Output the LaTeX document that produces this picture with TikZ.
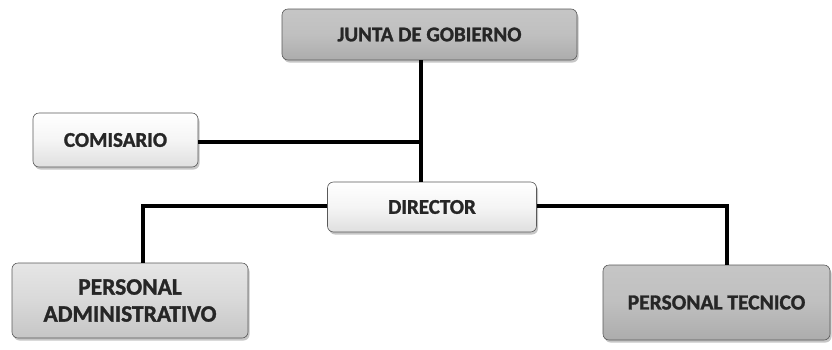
\documentclass[tikz,border=0pt]{standalone}
\usepackage{fontspec}
\setmainfont{Carlito}[BoldFeatures={FakeBold=1.3}]
\usetikzlibrary{shadows}
\begin{document}
\begin{tikzpicture}[x=1pt,y=-1pt,
  box/.style={draw=gray!70!black, line width=0.6pt, rounded corners=6pt, align=center,
    font=\fontsize{21}{23}\selectfont\bfseries, text=black!85,
    inner sep=0pt, drop shadow={shadow xshift=1.5pt, shadow yshift=-2.5pt, opacity=0.45}},
  light/.style={top color=white, bottom color=gray!25, middle color=gray!8},
  mid/.style={top color=gray!20, bottom color=gray!45, middle color=gray!30},
  darkb/.style={top color=gray!45, bottom color=gray!65, middle color=gray!50},
  link/.style={line width=3.2pt, black}]
\useasboundingbox (0,0) rectangle (832,349);
\node[box, darkb, minimum width=295pt, minimum height=51pt] (junta) at (429.5,34.5) {JUNTA DE GOBIERNO};
\node[box, light, minimum width=165pt, minimum height=54pt] (comis) at (115.5,140) {COMISARIO};
\node[box, light, minimum width=209pt, minimum height=50pt] (dir) at (432,207) {DIRECTOR};
\node[box, mid, minimum width=236pt, minimum height=75pt, font=\fontsize{23.5}{26}\selectfont\bfseries] (adm) at (130,300.5) {PERSONAL\\[1pt]ADMINISTRATIVO};
\node[box, darkb, minimum width=227pt, minimum height=75pt, font=\fontsize{21.5}{23}\selectfont\bfseries] (tec) at (716.5,302.5) {PERSONAL TECNICO};
\coordinate (jc) at (421,142);
\coordinate (dl) at (143,206);
\coordinate (dr) at (727,206);
\draw[link] (junta.south -| jc) -- (dir.north -| jc);
\draw[link] (comis.east |- jc) -- (jc);
\draw[link] (dir.west |- dl) -- (dl) -- (adm.north -| dl);
\draw[link] (dir.east |- dr) -- (dr) -- (tec.north -| dr);
\end{tikzpicture}
\end{document}
